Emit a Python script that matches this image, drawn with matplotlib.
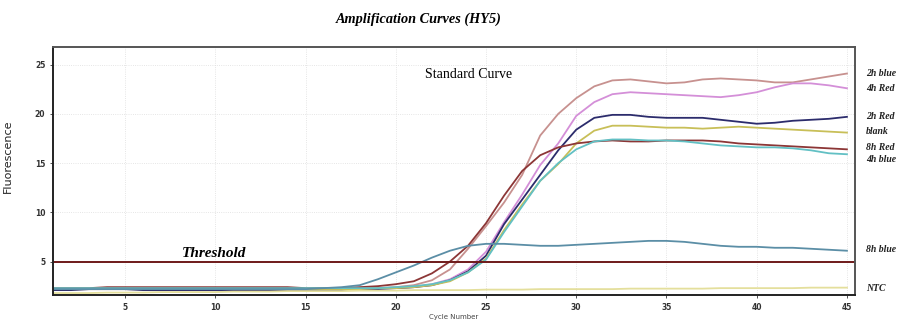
import matplotlib
matplotlib.use("Agg")
import matplotlib.pyplot as plt

# cycle numbers 1..45
cycles = list(range(1, 46))

# fluorescence readings per sample
blue_2h = [2.2, 2.2, 2.2, 2.2, 2.2, 2.2, 2.2, 2.2, 2.2, 2.2,
           2.2, 2.2, 2.2, 2.2, 2.2, 2.2, 2.2, 2.2, 2.3, 2.4,
           2.6, 3.1, 4.2, 6.3, 8.6, 11.0, 13.8, 17.8, 20.0, 21.6,
           22.8, 23.4, 23.5, 23.3, 23.1, 23.2, 23.5, 23.6, 23.5, 23.4,
           23.2, 23.2, 23.5, 23.8, 24.1]
red_4h = [2.2, 2.2, 2.2, 2.2, 2.2, 2.2, 2.2, 2.2, 2.2, 2.2,
          2.2, 2.2, 2.2, 2.2, 2.2, 2.2, 2.2, 2.2, 2.3, 2.3,
          2.4, 2.7, 3.2, 4.2, 6.0, 9.0, 11.8, 14.8, 17.0, 19.8,
          21.2, 22.0, 22.2, 22.1, 22.0, 21.9, 21.8, 21.7, 21.9, 22.2,
          22.7, 23.1, 23.1, 22.9, 22.6]
red_2h = [2.1, 2.1, 2.2, 2.2, 2.2, 2.1, 2.1, 2.1, 2.1, 2.1,
          2.1, 2.1, 2.1, 2.1, 2.1, 2.1, 2.1, 2.2, 2.2, 2.3,
          2.4, 2.6, 3.1, 4.0, 5.6, 8.8, 11.3, 13.8, 16.3, 18.4,
          19.6, 19.9, 19.9, 19.7, 19.6, 19.6, 19.6, 19.4, 19.2, 19.0,
          19.1, 19.3, 19.4, 19.5, 19.7]
blank = [2.2, 2.2, 2.2, 2.2, 2.2, 2.2, 2.2, 2.2, 2.2, 2.2,
         2.2, 2.2, 2.2, 2.2, 2.2, 2.2, 2.2, 2.2, 2.3, 2.3,
         2.4, 2.6, 3.0, 3.9, 5.3, 8.2, 10.8, 13.2, 14.9, 17.0,
         18.3, 18.8, 18.8, 18.7, 18.6, 18.6, 18.5, 18.6, 18.7, 18.6,
         18.5, 18.4, 18.3, 18.2, 18.1]
red_8h = [2.3, 2.3, 2.3, 2.4, 2.4, 2.4, 2.4, 2.4, 2.4, 2.4,
          2.4, 2.4, 2.4, 2.4, 2.3, 2.3, 2.3, 2.4, 2.5, 2.7,
          3.0, 3.8, 5.0, 6.6, 8.9, 11.7, 14.2, 15.8, 16.6, 17.0,
          17.2, 17.3, 17.2, 17.2, 17.3, 17.3, 17.3, 17.2, 17.0, 16.9,
          16.8, 16.7, 16.6, 16.5, 16.4]
blue_4h = [2.3, 2.3, 2.3, 2.3, 2.3, 2.3, 2.3, 2.3, 2.3, 2.3,
           2.3, 2.3, 2.3, 2.3, 2.3, 2.3, 2.3, 2.3, 2.3, 2.4,
           2.5, 2.7, 3.1, 3.9, 5.2, 8.0, 10.6, 13.2, 15.0, 16.4,
           17.2, 17.4, 17.4, 17.3, 17.3, 17.2, 17.0, 16.8, 16.7, 16.6,
           16.6, 16.5, 16.3, 16.0, 15.9]
blue_8h = [2.2, 2.2, 2.2, 2.2, 2.2, 2.2, 2.2, 2.2, 2.2, 2.2,
           2.2, 2.2, 2.2, 2.2, 2.2, 2.3, 2.4, 2.6, 3.2, 3.9,
           4.6, 5.4, 6.1, 6.6, 6.8, 6.8, 6.7, 6.6, 6.6, 6.7,
           6.8, 6.9, 7.0, 7.1, 7.1, 7.0, 6.8, 6.6, 6.5, 6.5,
           6.4, 6.4, 6.3, 6.2, 6.1]
ntc = [1.8, 1.8, 1.8, 1.85, 1.85, 1.85, 1.9, 1.9, 1.9, 1.9,
       1.95, 1.95, 1.95, 2.0, 2.0, 2.0, 2.0, 2.05, 2.05, 2.05,
       2.1, 2.1, 2.1, 2.1, 2.15, 2.15, 2.15, 2.2, 2.2, 2.2,
       2.2, 2.2, 2.25, 2.25, 2.25, 2.25, 2.25, 2.3, 2.3, 2.3,
       2.3, 2.3, 2.35, 2.35, 2.35]

threshold = 4.95

series = [
    ("2h blue", blue_2h, "#c7918f", 24.1),
    ("4h Red", red_4h, "#d48fd8", 22.6),
    ("2h Red", red_2h, "#2c2c6c", 19.7),
    ("blank", blank, "#c8bf58", 18.2),
    ("8h Red", red_8h, "#8c3636", 16.6),
    ("4h blue", blue_4h, "#62c0c4", 15.4),
    ("8h blue", blue_8h, "#5b8ea6", 6.2),
    ("NTC", ntc, "#e4df9c", 2.3),
]

fig = plt.figure(figsize=(9.01, 3.26), dpi=100)
ax = fig.add_axes([0.0588, 0.095, 0.8902, 0.761])

for name, vals, color, ylab in series:
    ax.plot(cycles, vals, color=color, lw=1.3)
    t = ax.text(1.014, 0, name, transform=ax.get_yaxis_transform(), va="center",
                family="Liberation Serif", style="italic", weight="bold",
                fontsize=7, color="#222222")
    t.set_y(ylab)

ax.axhline(threshold, color="#6e1a1a", lw=1.4)

ax.set_xlim(1, 45.45)
ax.set_ylim(1.6, 26.8)
ax.set_xticks([5, 10, 15, 20, 25, 30, 35, 40, 45])
ax.set_yticks([5, 10, 15, 20, 25])
ax.tick_params(labelsize=5.5, length=2, width=0.6, colors="#333333")
for lbl in ax.get_xticklabels() + ax.get_yticklabels():
    lbl.set_fontweight("bold")
ax.grid(True, color="#dddddd", lw=0.6, ls=":")
for side in ["left", "bottom", "top", "right"]:
    ax.spines[side].set_linewidth(1.4)
    ax.spines[side].set_color("#222222")
ax.spines["top"].set_color("#555555")
ax.spines["right"].set_color("#555555")

ax.set_xlabel("Cycle Number", fontsize=5, color="#444444", labelpad=2)
ax.set_ylabel("Fluorescence", fontsize=8, color="#222222")
ax.yaxis.set_label_coords(-0.05, 0.56)

ax.text(21.6, 23.6, "Standard Curve", family="Liberation Serif", fontsize=10,
        va="baseline")
ax.text(8.15, 5.45, "Threshold", family="Liberation Serif", style="italic",
        weight="bold", fontsize=11, va="baseline")

fig.text(0.465, 0.942, "Amplification Curves (HY5)", family="Liberation Serif",
         style="italic", weight="bold", fontsize=10.3, ha="center", va="center")

fig.savefig("out.png", dpi=100)
